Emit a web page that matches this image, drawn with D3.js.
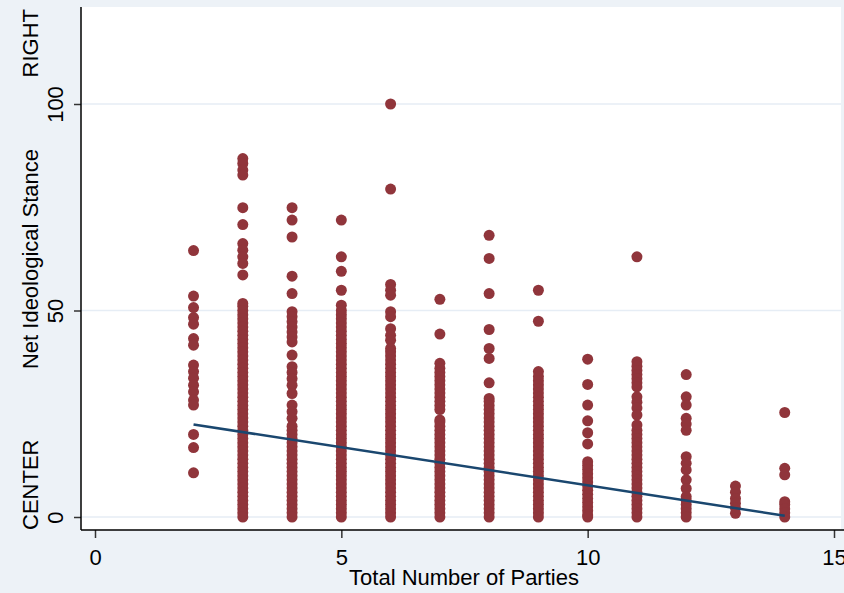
<!DOCTYPE html>
<html>
<head>
<meta charset="utf-8">
<script src="https://cdn.jsdelivr.net/npm/d3@7/dist/d3.min.js"></script>
<style>
  body { margin: 0; background: #edf2f7; }
  text { font-family: Arial, "Liberation Sans", sans-serif; fill: #000; }
</style>
</head>
<body>
<div id="chart"></div>
<script>
var w = 844; // Set the width
var h = 593; // Set the height

// Party counts on the x axis and the stance values
var partyCounts = [2, 3, 4, 5, 6, 7, 8, 9, 10, 11, 12, 13, 14];
var stances = [
    [64.5, 53.5, 50.7, 48.3, 46.7, 43.2, 41.6, 36.8, 35.2, 33.6, 31.9, 30.3, 28.3, 27.1, 20.0, 16.8, 10.7],
    [86.8, 85.6, 84.0, 82.8, 74.9, 70.8, 66.2, 64.6, 63.0, 61.4, 58.6, 51.7, 51, 50, 49, 48, 47, 46, 45, 44, 43, 42, 41, 40,
     39, 38, 37, 36, 35, 34, 33, 32, 31, 30, 29, 28, 27, 26, 25, 24, 23, 22, 21, 20, 19, 18, 17, 16, 15, 14, 13, 12, 11, 10,
     9, 8, 7, 6, 5, 4, 3, 2, 1, 0],
    [74.9, 71.9, 67.8, 58.3, 54.1, 49.7, 48.5, 47.3, 46, 44.8, 43.6, 42.4, 39.2, 36.4, 35, 33.5, 31.9, 29.9, 27.1, 25.5, 23.9,
     22, 21, 20, 19, 18, 17, 16, 15, 14, 13, 12, 11, 10, 9, 8, 7, 6, 5, 4, 3, 2, 1, 0],
    [71.9, 63.0, 59.5, 54.9, 51.3, 50, 49, 48, 47, 46, 45, 44, 43, 42, 41, 40, 39, 38, 37, 36, 35, 34, 33, 32, 31, 30, 29, 28,
     27, 26, 25, 24, 23, 22, 21, 20, 19, 18, 17, 16, 15, 14, 13, 12, 11, 10, 9, 8, 7, 6, 5, 4, 3, 2, 1, 0],
    [100, 79.4, 56.3, 54.9, 53.7, 49.7, 48.5, 45.6, 44, 42.8, 40.8, 40, 39, 38, 37, 36, 35, 34, 33, 32, 31, 30, 29, 28, 27, 26,
     25, 24, 23, 22, 21, 20, 19, 18, 17, 16, 15, 14, 13, 12, 11, 10, 9, 8, 7, 6, 5, 4, 3, 2, 1, 0],
    [52.7, 44.3, 37.2, 36, 35, 34, 33, 32, 31, 30, 29, 28, 27, 26, 23.5, 23, 22, 21, 20, 19, 18, 17, 16, 15, 14, 13, 12, 11,
     10, 9, 8, 7, 6, 5, 4, 3, 2, 1, 0],
    [68.2, 62.6, 54.1, 45.4, 40.8, 38.4, 32.5, 28.7, 28, 27, 26, 25, 24, 23, 22, 21, 20, 19, 18, 17, 16, 15, 14, 13, 12, 11,
     10, 9, 8, 7, 6, 5, 4, 3, 2, 1, 0],
    [54.9, 47.4, 35.2, 34, 33, 32, 31, 30, 29, 28, 27, 26, 25, 24, 23, 22, 21, 20, 19, 18, 17, 16, 15, 14, 13, 12, 11, 10, 9,
     8, 7, 6, 5, 4, 3, 2, 1, 0],
    [38.2, 32.1, 27.1, 23.3, 20.4, 17.7, 13.4, 12.5, 11.5, 10.5, 9.5, 8.5, 7.5, 6.5, 5.5, 4.5, 3.5, 2.5, 1.5, 0.5, 0],
    [63.0, 37.6, 36.5, 35.5, 34.5, 33.5, 32.5, 31.5, 29.1, 27.8, 26.4, 24.7, 22.3, 21, 20, 19, 18, 17, 16, 15, 14, 13, 12,
     11, 10, 9, 8, 7, 6, 5, 4, 3, 2, 1, 0],
    [34.5, 29.1, 27.1, 23.9, 22.5, 21.0, 14.6, 13.0, 11.4, 9.0, 6.9, 4.9, 4, 3, 2, 1, 0],
    [7.5, 6.0, 4.5, 3.3, 2.2, 0.9],
    [25.3, 11.8, 10.2, 3.7, 3, 2, 1, 0]
];

// Linear fit drawn across the observed range
var fitX = [2, 14];
var fitY = [22.4, 0.3];

var xTicks = [0, 5, 10, 15];
var yTicks = [0, 50, 100];
var yEndLabels = ["CENTER", "RIGHT"];
var xTitle = "Total Number of Parties";
var yTitle = "Net Ideological Stance";

var plotLeft = 81, plotRight = 841, plotTop = 7, plotBottom = 530;

var xScale = d3.scaleLinear().domain([0, 15]).range([95, 834]);
var yScale = d3.scaleLinear().domain([0, 100]).range([517, 104]);

var svg = d3.select("#chart")
    .append("svg")
    .attr("width", w)
    .attr("height", h);

svg.append("rect")
    .attr("width", w)
    .attr("height", h)
    .attr("fill", "#edf2f7");

// White plot region
svg.append("rect")
    .attr("x", plotLeft)
    .attr("y", plotTop)
    .attr("width", plotRight - plotLeft)
    .attr("height", plotBottom - plotTop)
    .attr("fill", "#ffffff");

// Grid lines
svg.selectAll(".grid")
    .data(yTicks)
    .enter()
    .append("line")
    .attr("class", "grid")
    .attr("x1", plotLeft)
    .attr("x2", plotRight)
    .attr("y1", function(d) { return yScale(d); })
    .attr("y2", function(d) { return yScale(d); })
    .attr("stroke", "#e6edf5")
    .attr("stroke-width", 1.5);

// Flatten the columns into points
var points = [];
partyCounts.forEach(function(n, i) {
    stances[i].forEach(function(v) {
        points.push({ parties: n, stance: v });
    });
});

svg.selectAll("circle")
    .data(points)
    .enter()
    .append("circle")
    .attr("cx", function(d) { return xScale(d.parties); })
    .attr("cy", function(d) { return yScale(d.stance); })
    .attr("r", 5.5)
    .attr("fill", "#90353b");

// Fitted line
var line = d3.line()
    .x(function(d) { return xScale(d[0]); })
    .y(function(d) { return yScale(d[1]); });

svg.append("path")
    .datum(d3.zip(fitX, fitY))
    .attr("fill", "none")
    .attr("stroke", "#1a476f")
    .attr("stroke-width", 2.5)
    .attr("d", line);

// Axes
var xAxis = d3.axisBottom(xScale).tickValues(xTicks).tickSize(8).tickPadding(11).tickSizeOuter(0);
var gx = svg.append("g")
    .attr("transform", "translate(0," + plotBottom + ")")
    .call(xAxis);
gx.select(".domain").remove();
gx.selectAll(".tick line").attr("stroke", "#333").attr("stroke-width", 1.5);
gx.selectAll("text").style("font-size", "22px").attr("fill", "#000");

var yAxis = d3.axisLeft(yScale).tickValues(yTicks).tickSize(7).tickSizeOuter(0);
var gy = svg.append("g")
    .attr("transform", "translate(" + plotLeft + ",0)")
    .call(yAxis);
gy.select(".domain").remove();
gy.selectAll(".tick line").attr("stroke", "#333").attr("stroke-width", 1.5);
gy.selectAll("text")
    .attr("x", null)
    .attr("dy", null)
    .attr("transform", "translate(-18,0) rotate(-90)")
    .attr("text-anchor", "middle")
    .style("font-size", "22px")
    .attr("fill", "#000");

// Axis lines
svg.append("line")
    .attr("x1", plotLeft).attr("x2", plotLeft)
    .attr("y1", plotTop).attr("y2", plotBottom)
    .attr("stroke", "#000").attr("stroke-width", 1.5);
svg.append("line")
    .attr("x1", plotLeft).attr("x2", w)
    .attr("y1", plotBottom).attr("y2", plotBottom)
    .attr("stroke", "#000").attr("stroke-width", 1.5);

// CENTER / RIGHT labels at the ends of the y axis
svg.append("text")
    .attr("transform", "translate(38," + plotBottom + ") rotate(-90)")
    .attr("text-anchor", "start")
    .style("font-size", "22px")
    .text(yEndLabels[0]);
svg.append("text")
    .attr("transform", "translate(38,9) rotate(-90)")
    .attr("text-anchor", "end")
    .style("font-size", "22px")
    .text(yEndLabels[1]);

// Axis titles
svg.append("text")
    .attr("x", 464)
    .attr("y", 585)
    .attr("text-anchor", "middle")
    .style("font-size", "22px")
    .text(xTitle);

svg.append("text")
    .attr("transform", "translate(38,259) rotate(-90)")
    .attr("text-anchor", "middle")
    .style("font-size", "22px")
    .text(yTitle);
</script>
</body>
</html>
